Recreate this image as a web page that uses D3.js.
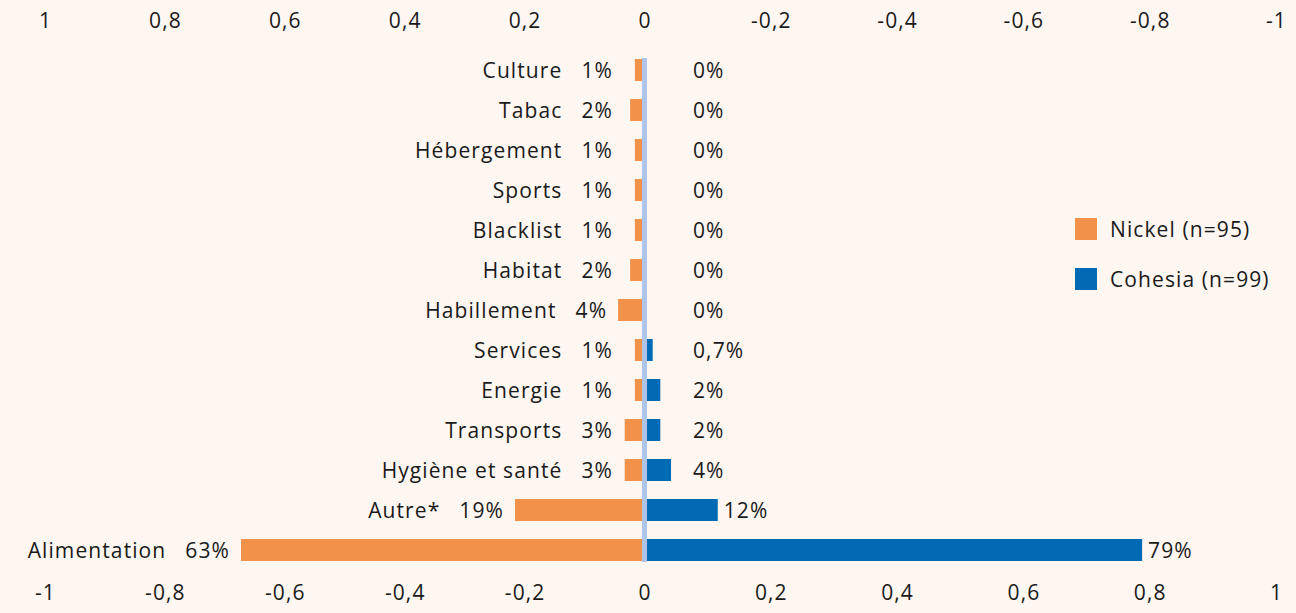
<!DOCTYPE html>
<html><head><meta charset="utf-8">
<script src="https://cdn.jsdelivr.net/npm/d3@7"></script>
<style>
html,body{margin:0;padding:0;background:#fdf6f1;}
svg{display:block;font-family:"Open Sans",sans-serif;}
text{fill:#1a1a1a;letter-spacing:1.1px;}
</style></head><body>
<svg id="chart" width="1296" height="613"></svg>
<script>
const categories = ["Culture","Tabac","Hébergement","Sports","Blacklist","Habitat","Habillement","Services","Energie","Transports","Hygiène et santé","Autre*","Alimentation"];
const nickelValues = [0.016,0.024,0.016,0.016,0.016,0.024,0.044,0.016,0.016,0.033,0.033,0.216,0.673];
const cohesiaValues = [0,0,0,0,0,0,0,0.013,0.025,0.025,0.042,0.116,0.788];
const nickelLabels = ["1%","2%","1%","1%","1%","2%","4%","1%","1%","3%","3%","19%","63%"];
const cohesiaLabels = ["0%","0%","0%","0%","0%","0%","0%","0,7%","2%","2%","4%","12%","79%"];
const bottomTicks = [-1,-0.8,-0.6,-0.4,-0.2,0,0.2,0.4,0.6,0.8,1];
const topTicks = [1,0.8,0.6,0.4,0.2,0,-0.2,-0.4,-0.6,-0.8,-1];
const seriesNames = ["Nickel (n=95)","Cohesia (n=99)"];
const colors = {nickel:"#f2914a", cohesia:"#006bb4", axis:"#aec4e8"};

const svg = d3.select("#chart");
const fs = 21;
const fmt = v => (v === 0 ? "0" : String(v).replace(".", ","));

// bottom (Cohesia) axis scale and top (Nickel) reversed axis scale
const x = d3.scaleLinear().domain([-1, 0, 1]).range([45, 644.5, 1276]);
const xTop = d3.scaleLinear().domain([1, 0, -1]).range([45, 644.5, 1276]);
const y = d3.scaleBand().domain(categories).range([50, 570]).paddingInner(0.45).paddingOuter(0.225);

// top axis
const topAxis = d3.axisTop(xTop).tickValues(topTicks).tickFormat(fmt).tickSize(0).tickPadding(0);
const gTop = svg.append("g").attr("transform", "translate(0,28)").call(topAxis);
gTop.select(".domain").remove();
gTop.selectAll("text").attr("font-size", fs).attr("font-family", "Open Sans").attr("fill", "#1a1a1a");

// bottom axis
const bottomAxis = d3.axisBottom(x).tickValues(bottomTicks).tickFormat(fmt).tickSize(0).tickPadding(0);
const gBot = svg.append("g").attr("transform", "translate(0,584)").call(bottomAxis);
gBot.select(".domain").remove();
gBot.selectAll("text").attr("font-size", fs).attr("font-family", "Open Sans").attr("fill", "#1a1a1a").attr("dy", "0.75em");

const rows = categories.map((c, i) => ({c, n: nickelValues[i], h: cohesiaValues[i], nl: nickelLabels[i], hl: cohesiaLabels[i]}));

// Nickel bars (leftwards)
svg.append("g").selectAll("rect").data(rows).join("rect")
  .attr("x", d => xTop(d.n)).attr("width", d => xTop(0) - xTop(d.n))
  .attr("y", d => y(d.c)).attr("height", y.bandwidth())
  .attr("fill", colors.nickel);

// Cohesia bars (rightwards)
svg.append("g").selectAll("rect").data(rows).join("rect")
  .attr("x", x(0)).attr("width", d => x(d.h) - x(0))
  .attr("y", d => y(d.c)).attr("height", y.bandwidth())
  .attr("fill", colors.cohesia);

// zero line
svg.append("line")
  .attr("x1", x(0)).attr("x2", x(0))
  .attr("y1", y(categories[0]) - 1).attr("y2", y(categories[categories.length - 1]) + y.bandwidth() + 1)
  .attr("stroke", colors.axis).attr("stroke-width", 5);

// value labels and category labels
const lab = svg.append("g").attr("font-size", fs);
rows.forEach(d => {
  const cy = y(d.c) + y.bandwidth() / 2;
  const nx = Math.min(xTop(d.n), 624) - 11;
  const t = lab.append("text").attr("x", nx).attr("y", cy).attr("dy", "0.36em")
    .attr("text-anchor", "end").text(d.nl);
  const w = t.node().getComputedTextLength();
  lab.append("text").attr("x", nx - w - 19).attr("y", cy).attr("dy", "0.36em")
    .attr("text-anchor", "end").text(d.c);
  const cx = Math.max(x(d.h) + 6, 693);
  lab.append("text").attr("x", cx).attr("y", cy).attr("dy", "0.36em").text(d.hl);
});

// legend
const leg = svg.append("g").attr("transform", "translate(1075,218)");
seriesNames.forEach((s, i) => {
  const g = leg.append("g").attr("transform", `translate(0,${i * 50})`);
  g.append("rect").attr("width", 22).attr("height", 22).attr("fill", i === 0 ? colors.nickel : colors.cohesia);
  g.append("text").attr("x", 35).attr("y", 11).attr("dy", "0.36em").attr("font-size", fs).text(s);
});
</script></body></html>
